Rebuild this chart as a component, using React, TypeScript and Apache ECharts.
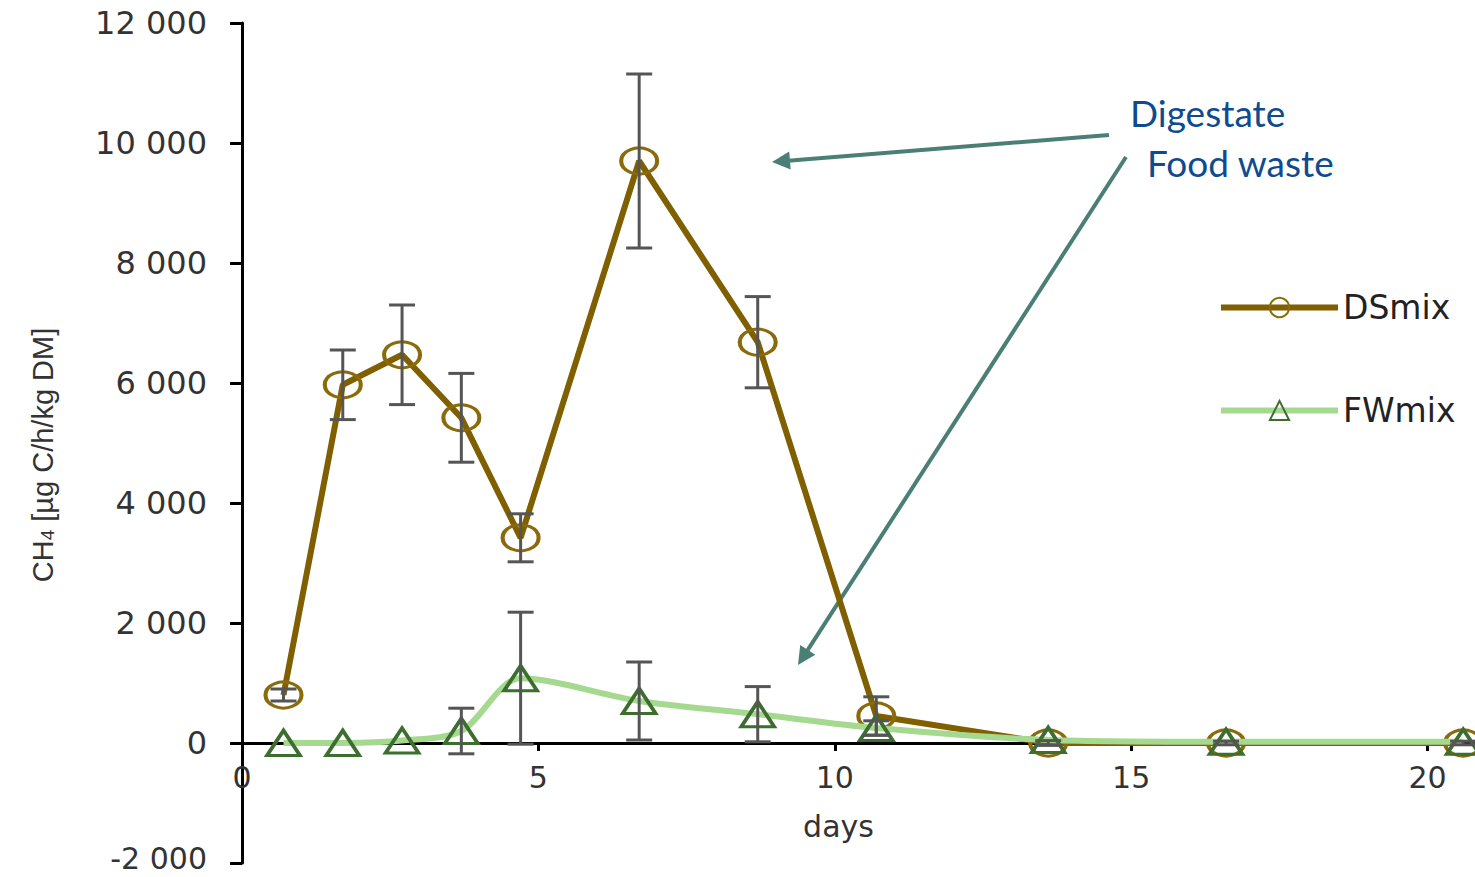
import React, { useEffect, useRef } from "react";
import * as echarts from "echarts";

const days = [0.7, 1.7, 2.7, 3.7, 4.7, 6.7, 8.7, 10.7, 13.6, 16.6, 20.6];
const dsValues = [800, 5970, 6470, 5420, 3420, 9700, 6680, 450, 0, 0, 0];
const dsErr = [100, 580, 830, 740, 400, 1450, 760, 320, 40, 30, 30];
const fwValues = [0, 0, 40, 200, 1080, 700, 480, 250, 50, 20, 20];
const fwErr = [0, 0, 0, 380, 1100, 650, 460, 120, 0, 0, 0];
const yTicks = { min: -2000, max: 12000, interval: 2000 };
const xTicks = { min: 0, max: 20.8, interval: 5 };
const seriesNames = ["DSmix", "FWmix"];
const annotations = ["Digestate", "Food waste"];

const fmt = (v: number) => {
  const s = String(Math.abs(v)).replace(/\B(?=(\d{3})+(?!\d))/g, " ");
  const t = (v < 0 ? "-" : "") + s;
  return v === yTicks.min ? "{m|" + t + "}" : t;
};

function arrow(sx: number, sy: number, ex: number, ey: number, color: string) {
  const dx = ex - sx, dy = ey - sy;
  const len = Math.sqrt(dx * dx + dy * dy);
  const ux = dx / len, uy = dy / len;
  const nx = -uy, ny = ux;
  const L = 18, W = 9;
  const bx = ex - ux * L, by = ey - uy * L;
  return [
    { type: "line", shape: { x1: sx, y1: sy, x2: bx + ux * 2, y2: by + uy * 2 }, style: { stroke: color, lineWidth: 4 } },
    {
      type: "polygon",
      shape: { points: [[ex, ey], [bx + nx * W, by + ny * W], [bx - nx * W, by - ny * W]] },
      style: { fill: color },
    },
  ];
}

const GRID_TOP = 23;
const GRID_H = 840;

export default function App() {
  const ref = useRef<HTMLDivElement>(null);
  useEffect(() => {
    if (!ref.current) return;
    const chart = echarts.init(ref.current, null, { renderer: "svg" });
    const dsData = days.map((d, i) => [d, dsValues[i]]);
    const fwData = days.map((d, i) => [d, fwValues[i]]);
    const dsErrData = days.map((d, i) => [d, dsValues[i] - dsErr[i], dsValues[i] + dsErr[i]]).filter((_, i) => dsErr[i] > 0);
    const fwErrData = days.map((d, i) => [d, fwValues[i] - fwErr[i], fwValues[i] + fwErr[i]]).filter((_, i) => fwErr[i] > 0);
    const errRender = (params: any, api: any) => {
      const x = api.value(0), lo = api.value(1), hi = api.value(2);
      const pLo = api.coord([x, lo]);
      const pHi = api.coord([x, hi]);
      const hw = 13;
      const style = { stroke: "#555555", lineWidth: 3 };
      return {
        type: "group",
        children: [
          { type: "line", shape: { x1: pLo[0], y1: pLo[1], x2: pHi[0], y2: pHi[1] }, style },
          { type: "line", shape: { x1: pHi[0] - hw, y1: pHi[1], x2: pHi[0] + hw, y2: pHi[1] }, style },
          { type: "line", shape: { x1: pLo[0] - hw, y1: pLo[1], x2: pLo[0] + hw, y2: pLo[1] }, style },
        ],
      };
    };
    // place the x axis at y = 0 by offsetting it up from the grid bottom
    const zeroOffset = -GRID_H * (0 - yTicks.min) / (yTicks.max - yTicks.min);
    const teal = "#4a7f76";
    const option: any = {
      animation: false,
      backgroundColor: "#ffffff",
      grid: { left: 242, top: GRID_TOP, width: 1233, height: GRID_H, containLabel: false, outerBoundsMode: "none" },
      legend: {
        orient: "vertical",
        left: 1213,
        top: 286,
        itemWidth: 117,
        itemHeight: 24,
        itemGap: 70,
        data: seriesNames,
        lineStyle: { width: 6 },
        textStyle: { fontFamily: "DejaVu Sans", fontSize: 33, color: "#222", padding: [0, 0, 0, 0] },
      },
      xAxis: {
        type: "value",
        min: xTicks.min,
        max: xTicks.max,
        interval: xTicks.interval,
        offset: zeroOffset,
        name: "days",
        nameLocation: "middle",
        nameGap: 68,
        nameTextStyle: { fontFamily: "DejaVu Sans", fontSize: 30, color: "#333", padding: [0, 40, 0, 0] },
        axisLine: { onZero: false, lineStyle: { color: "#000", width: 3 } },
        axisTick: { show: true, length: 8, lineStyle: { color: "#000", width: 3 } },
        axisLabel: { fontFamily: "DejaVu Sans", fontSize: 30, color: "#333", margin: 19, showMaxLabel: false },
        splitLine: { show: false },
      },
      yAxis: {
        type: "value",
        min: yTicks.min,
        max: yTicks.max,
        interval: yTicks.interval,
        name: "{a|CH}{b|4}{a| [µg C/h/kg DM]}",
        nameLocation: "middle",
        nameGap: 185,
        nameTextStyle: {
          padding: [0, 24, 0, 0],
          rich: {
            a: { fontFamily: "Liberation Sans", fontSize: 29, color: "#333" },
            b: { fontFamily: "Liberation Sans", fontSize: 19, color: "#333", verticalAlign: "bottom", padding: [10, 0, 0, 0] },
          },
        },
        axisLine: { show: true, onZero: false, lineStyle: { color: "#000", width: 3 } },
        axisTick: { show: true, length: 12, lineStyle: { color: "#000", width: 3 } },
        axisLabel: {
          fontFamily: "DejaVu Sans",
          fontSize: 32,
          lineHeight: 24,
          color: "#333",
          margin: 35,
          formatter: fmt,
          rich: { m: { fontFamily: "DejaVu Sans", fontSize: 30, lineHeight: 22, color: "#333", padding: [0, 0, 10, 0] } },
        },
        splitLine: { show: false },
      },
      series: [
        {
          name: seriesNames[0],
          type: "line",
          data: dsData,
          symbol: "circle",
          symbolSize: [36, 26],
          lineStyle: { color: "#7f5f00", width: 6 },
          itemStyle: { color: "rgba(255,255,255,0)", borderColor: "#8a6a0a", borderWidth: 3.5 },
          z: 2,
        },
        {
          name: seriesNames[1],
          type: "line",
          data: fwData,
          smooth: 0.3,
          symbol: "triangle",
          symbolSize: [33, 25],
          lineStyle: { color: "#a5d98f", width: 6 },
          itemStyle: { color: "rgba(255,255,255,0)", borderColor: "#3b6e2f", borderWidth: 3.5 },
          z: 3,
        },
        { type: "custom", name: "dsErr", data: dsErrData, renderItem: errRender, encode: { x: 0, y: [1, 2] }, z: 4, silent: true },
        { type: "custom", name: "fwErr", data: fwErrData, renderItem: errRender, encode: { x: 0, y: [1, 2] }, z: 4, silent: true },
      ],
      graphic: [
        {
          type: "text",
          x: 1130,
          y: 112,
          style: { text: annotations[0], fontFamily: "Lato", fontSize: 37, fill: "#0f4b8f", textVerticalAlign: "middle" },
        },
        {
          type: "text",
          x: 1147,
          y: 162,
          style: { text: annotations[1], fontFamily: "Lato", fontSize: 37, fill: "#0f4b8f", textVerticalAlign: "middle" },
        },
        ...arrow(1109, 135, 772, 162, teal),
        ...arrow(1126, 157, 798, 665, teal),
      ],
    };
    chart.setOption(option);
    return () => chart.dispose();
  }, []);
  return <div ref={ref} style={{ position: "absolute", left: 0, top: 0, width: 1475, height: 877 }} />;
}
